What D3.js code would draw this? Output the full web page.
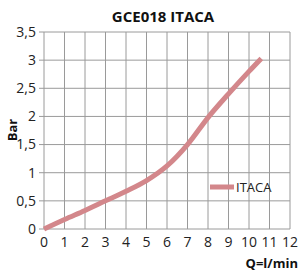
<!DOCTYPE html>
<html>
<head>
<meta charset="utf-8">
<script src="https://cdn.jsdelivr.net/npm/d3@7"></script>
<style>
  body { margin: 0; background: #fff; }
  svg { display: block; font-family: "Open Sans", sans-serif; }
</style>
</head>
<body>
<div id="chart"></div>
<script>
// values
const flow = [0, 1, 2, 3, 4, 5, 6, 7, 8, 9, 10, 10.6];
const pressure = [0, 0.17, 0.33, 0.5, 0.67, 0.86, 1.12, 1.5, 1.98, 2.4, 2.8, 3.03];
const xTicks = [0, 1, 2, 3, 4, 5, 6, 7, 8, 9, 10, 11, 12];
const yTicks = [0, 0.5, 1, 1.5, 2, 2.5, 3, 3.5];
const seriesName = "ITACA";

const width = 300, height = 272;
const margin = { top: 32, right: 10, bottom: 43, left: 44 };
const lineColor = "#d3878b";

const svg = d3.select("#chart").append("svg")
    .attr("width", width)
    .attr("height", height);

const x = d3.scaleLinear().domain([0, 12]).range([margin.left, width - margin.right]);
const y = d3.scaleLinear().domain([0, 3.5]).range([height - margin.bottom, margin.top]);

// grid
svg.append("g").selectAll("line.v")
    .data(xTicks)
    .join("line")
    .attr("x1", d => x(d)).attr("x2", d => x(d))
    .attr("y1", y(0)).attr("y2", y(3.5))
    .attr("stroke", "#9a9a9a").attr("stroke-width", 1);

svg.append("g").selectAll("line.h")
    .data(yTicks)
    .join("line")
    .attr("x1", x(0) - 5).attr("x2", x(12))
    .attr("y1", d => y(d)).attr("y2", d => y(d))
    .attr("stroke", "#9a9a9a").attr("stroke-width", 1);

// axes labels
const fmt = d => String(d).replace(".", ",");
svg.append("g").selectAll("text")
    .data(yTicks)
    .join("text")
    .attr("x", x(0) - 8)
    .attr("y", d => y(d))
    .attr("dy", "0.35em")
    .attr("text-anchor", "end")
    .attr("font-size", 14)
    .attr("fill", "#222")
    .text(fmt);

svg.append("g").selectAll("text")
    .data(xTicks)
    .join("text")
    .attr("x", d => x(d))
    .attr("y", y(0) + 18)
    .attr("text-anchor", "middle")
    .attr("font-size", 14)
    .attr("fill", "#222")
    .text(d => d);

// series line
const line = d3.line()
    .x((d, i) => x(flow[i]))
    .y(d => y(d))
    .curve(d3.curveMonotoneX);

svg.append("path")
    .datum(pressure)
    .attr("fill", "none")
    .attr("stroke", lineColor)
    .attr("stroke-width", 5)
    .attr("stroke-linejoin", "round")
    .attr("d", line);

// legend
svg.append("line")
    .attr("x1", 210).attr("x2", 234)
    .attr("y1", 187).attr("y2", 187)
    .attr("stroke", lineColor).attr("stroke-width", 5);
svg.append("text")
    .attr("x", 236).attr("y", 187)
    .attr("dy", "0.35em")
    .attr("font-size", 13)
    .attr("fill", "#222")
    .text(seriesName);

// titles
svg.append("text")
    .attr("x", 163).attr("y", 22)
    .attr("text-anchor", "middle")
    .attr("font-size", 15)
    .attr("font-weight", "bold")
    .attr("fill", "#111")
    .text("GCE018 ITACA");

svg.append("text")
    .attr("x", width - 2).attr("y", 268)
    .attr("text-anchor", "end")
    .attr("font-size", 13)
    .attr("font-weight", "bold")
    .attr("fill", "#111")
    .text("Q=l/min");

svg.append("text")
    .attr("transform", "translate(17,130) rotate(-90)")
    .attr("text-anchor", "middle")
    .attr("font-size", 13)
    .attr("font-weight", "bold")
    .attr("fill", "#111")
    .text("Bar");
</script>
</body>
</html>
